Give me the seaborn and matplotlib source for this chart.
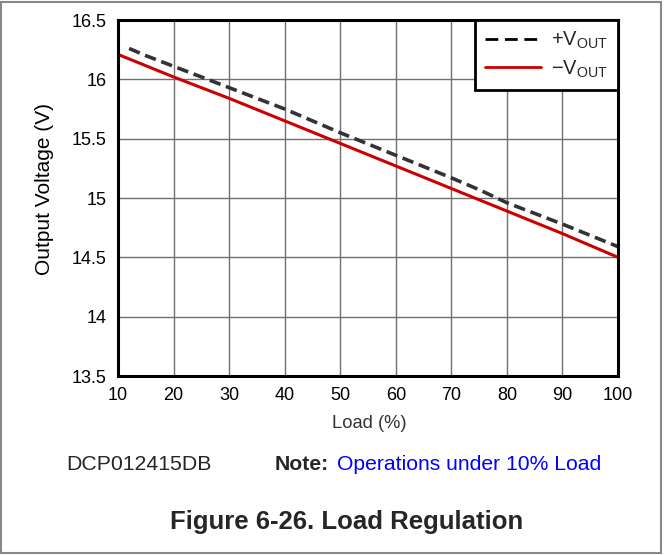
import pandas as pd
import matplotlib
matplotlib.use("Agg")
import matplotlib.pyplot as plt
import seaborn as sns
from matplotlib.patches import Rectangle

# Data
load_pos = [12, 15, 20, 30, 40, 50, 60, 70, 75, 80, 90, 100]
vout_pos = [16.26, 16.20, 16.11, 15.93, 15.75, 15.55, 15.36, 15.17, 15.07, 14.96, 14.78, 14.59]
load_neg = [10, 20, 30, 40, 50, 60, 70, 80, 90, 100]
vout_neg = [16.21, 16.02, 15.84, 15.65, 15.46, 15.27, 15.08, 14.89, 14.70, 14.50]
x_ticks = [10, 20, 30, 40, 50, 60, 70, 80, 90, 100]
y_ticks = [13.5, 14, 14.5, 15, 15.5, 16, 16.5]
y_tick_labels = ["13.5", "14", "14.5", "15", "15.5", "16", "16.5"]

df_pos = pd.DataFrame({"load": load_pos, "v": vout_pos})
df_neg = pd.DataFrame({"load": load_neg, "v": vout_neg})

sns.set_theme(style="white")
plt.rcParams["font.family"] = ["Liberation Sans", "DejaVu Sans"]
plt.rcParams["mathtext.fontset"] = "custom"
plt.rcParams["mathtext.rm"] = "Liberation Sans"

W, H = 664, 555
fig = plt.figure(figsize=(6.64, 5.55), dpi=100)
ax = fig.add_axes([118 / W, 1 - 376 / H, 500 / W, 356 / H])

sns.lineplot(data=df_pos, x="load", y="v", ax=ax, color="#333333", lw=2.6,
             linestyle=(0, (3.2, 1.6)), label="+V$_\\mathregular{OUT}$")
sns.lineplot(data=df_neg, x="load", y="v", ax=ax, color="#cc0000", lw=2.2,
             label="\u2212V$_\\mathregular{OUT}$")

ax.set_xlim(10, 100)
ax.set_ylim(13.5, 16.5)
ax.set_xticks(x_ticks)
ax.set_yticks(y_ticks)
ax.set_yticklabels(y_tick_labels)
ax.grid(True, color="#707070", lw=1.0)
ax.tick_params(length=0, labelsize=13, colors="black")
ax.tick_params(axis="y", pad=8)
ax.tick_params(axis="x", pad=8)
for s in ax.spines.values():
    s.set_color("black")
    s.set_linewidth(2.2)

ax.set_xlabel("")
ax.set_ylabel("")
fig.text(369 / W, 1 - 423 / H, "Load (%)", fontsize=13.2, color="#333333",
         ha="center", va="center")
fig.text(45 / W, 1 - 189 / H, "Output Voltage (V)", fontsize=15, color="black",
         rotation=90, ha="center", va="center")

leg = ax.legend(loc="upper right", borderaxespad=0, fancybox=False,
                framealpha=1, edgecolor="black", fontsize=14.5,
                handlelength=2.8, handletextpad=0.5, borderpad=0.5,
                labelspacing=0.35)
leg.get_frame().set_linewidth(2.0)
for h in leg.get_lines():
    h.set_linewidth(2.0)
leg.get_lines()[0].set_color("black")
leg.get_lines()[0].set_linestyle((0, (4.6, 2.4)))

fig.text(66 / W, 1 - 465 / H, "DCP012415DB", fontsize=15.3, va="center")
fig.text(275 / W, 1 - 465 / H, "Note:", fontsize=15.2, fontweight="bold", va="center")
fig.text(337 / W, 1 - 465 / H, "Operations under 10% Load", fontsize=15.2,
         color="#0000ff", va="center")
fig.text(347 / W, 1 - 522 / H, "Figure 6-26. Load Regulation", fontsize=18.5,
         fontweight="bold", ha="center", va="center")

fig.patches.append(Rectangle((0.002, 0.003), 0.994, 0.993, transform=fig.transFigure,
                             fill=False, edgecolor="#888888", lw=1.5))

fig.savefig("out.png", dpi=100)
